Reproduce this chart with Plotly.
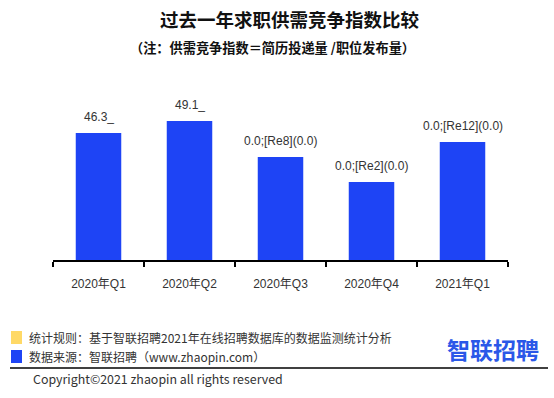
import plotly.graph_objects as go

categories = ["2020年Q1", "2020年Q2", "2020年Q3", "2020年Q4", "2021年Q1"]
values = [46.3, 49.1, 40.7, 34.9, 44.2]
bar_labels = ["46.3_", "49.1_", "0.0;[Re8](0.0)", "0.0;[Re2](0.0)", "0.0;[Re12](0.0)"]

W, H = 554, 398
L, R, T, B = 53, 46, 70, 138
PW, PH = W - L - R, H - T - B


def px(x):
    return (x - L) / PW


def py(y):
    return (H - B - y) / PH


LAT = "Liberation Sans, Noto Sans CJK SC, sans-serif"
CJK = "Noto Sans CJK SC, sans-serif"

fig = go.Figure()
fig.add_trace(go.Bar(
    x=categories, y=values, marker=dict(color="#1e44f5", line=dict(width=0)),
    width=0.5, hoverinfo="skip",
))

annotations = []
for c, v, t in zip(categories, values, bar_labels):
    annotations.append(dict(x=c, y=v, xref="x", yref="y", text=t, showarrow=False,
                            yanchor="middle", yshift=16,
                            font=dict(family=LAT, size=12, color="#333333")))

# title & subtitle
annotations.append(dict(x=px(290), y=py(19), xref="paper", yref="paper",
                        text="<b>过去一年求职供需竞争指数比较</b>", showarrow=False,
                        xanchor="center", yanchor="middle",
                        font=dict(family=CJK, size=18.5, color="#111111")))
annotations.append(dict(x=px(272), y=py(47), xref="paper", yref="paper",
                        text="<b>（注：供需竞争指数＝简历投递量 /职位发布量）</b>", showarrow=False,
                        xanchor="center", yanchor="middle",
                        font=dict(family=CJK, size=13.2, color="#111111")))
# footer
annotations.append(dict(x=px(27), y=py(337), xref="paper", yref="paper",
                        text="统计规则：基于智联招聘2021年在线招聘数据库的数据监测统计分析", showarrow=False,
                        xanchor="left", yanchor="middle",
                        font=dict(family=CJK, size=12, color="#333333")))
annotations.append(dict(x=px(27), y=py(356), xref="paper", yref="paper",
                        text="数据来源：智联招聘（www.zhaopin.com）", showarrow=False,
                        xanchor="left", yanchor="middle",
                        font=dict(family=CJK, size=12, color="#333333")))
annotations.append(dict(x=px(31), y=py(379), xref="paper", yref="paper",
                        text="Copyright©2021 zhaopin all rights reserved", showarrow=False,
                        xanchor="left", yanchor="middle",
                        font=dict(family=CJK, size=12.4, color="#333333")))
annotations.append(dict(x=px(492.5), y=py(348.5), xref="paper", yref="paper",
                        text="<b>智联招聘</b>", showarrow=False,
                        xanchor="center", yanchor="middle",
                        font=dict(family=CJK, size=23, color="#2a58e8")))

shapes = [
    dict(type="rect", xref="paper", yref="paper", x0=px(11), x1=px(22), y0=py(331), y1=py(344),
         fillcolor="#ffd966", line=dict(width=0)),
    dict(type="rect", xref="paper", yref="paper", x0=px(11), x1=px(22), y0=py(350), y1=py(363),
         fillcolor="#1e44f5", line=dict(width=0)),
    dict(type="line", xref="paper", yref="paper", x0=px(10), x1=px(548), y0=py(368), y1=py(368),
         line=dict(color="#000000", width=1.5)),
]

fig.update_layout(
    width=W, height=H,
    margin=dict(l=L, r=R, t=T, b=B),
    paper_bgcolor="white", plot_bgcolor="white",
    showlegend=False,
    annotations=annotations, shapes=shapes,
    xaxis=dict(type="category", showline=True, linecolor="#000000", linewidth=1.5,
               ticks="outside", tickson="boundaries", ticklen=5, tickcolor="#000000", tickwidth=1.5,
               showgrid=False, zeroline=False,
               tickfont=dict(family=LAT, size=12, color="#333333"), ticklabelstandoff=12),
    yaxis=dict(range=[16.7, 61.0], visible=False, showgrid=False, zeroline=False),
)

fig.write_html("out.html", config={"displayModeBar": False},
               post_script="document.body.style.margin='0';document.body.style.overflow='hidden';")
